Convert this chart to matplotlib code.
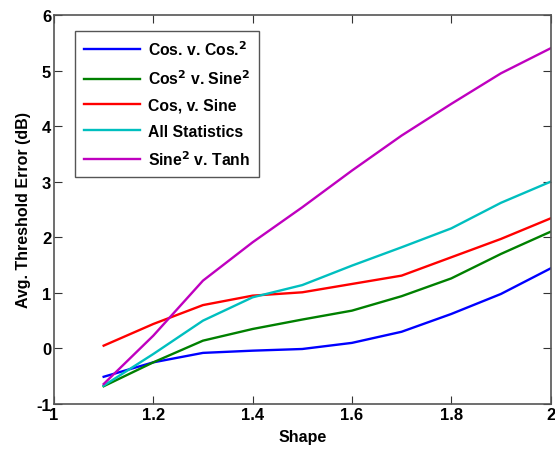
import matplotlib
matplotlib.use("Agg")
import matplotlib.pyplot as plt

plt.rcParams["font.family"] = ["Liberation Sans", "DejaVu Sans"]
plt.rcParams["font.weight"] = "bold"
plt.rcParams["mathtext.default"] = "bf"
plt.rcParams["axes.unicode_minus"] = False

shape = [1.1, 1.2, 1.3, 1.4, 1.5, 1.6, 1.7, 1.8, 1.9, 2.0]
cos_cos2 = [-0.51, -0.25, -0.08, -0.04, -0.01, 0.10, 0.30, 0.62, 0.98, 1.44]
cos2_sine2 = [-0.68, -0.25, 0.14, 0.35, 0.52, 0.68, 0.94, 1.26, 1.70, 2.10]
cos_sine = [0.05, 0.44, 0.78, 0.95, 1.01, 1.16, 1.31, 1.64, 1.97, 2.34]
all_stats = [-0.67, -0.10, 0.50, 0.92, 1.14, 1.49, 1.82, 2.16, 2.62, 3.00]
sine2_tanh = [-0.64, 0.23, 1.22, 1.91, 2.54, 3.20, 3.83, 4.40, 4.95, 5.40]

labels = [r"Cos. v. Cos.$^2$", r"Cos$^2$ v. Sine$^2$", "Cos, v. Sine",
          "All Statistics", r"Sine$^2$ v. Tanh"]
colors = ["#0000ff", "#008000", "#ff0000", "#00bfbf", "#bf00bf"]
series = [cos_cos2, cos2_sine2, cos_sine, all_stats, sine2_tanh]

fig = plt.figure(figsize=(5.55, 4.56), dpi=100)
ax = fig.add_axes([0.0973, 0.1118, 0.8947, 0.8532])

for ys, c, lab in zip(series, colors, labels):
    ax.plot(shape, ys, color=c, lw=1.7, label=lab)

ax.set_xlim(1, 2)
ax.set_ylim(-1, 6)
ax.set_xticks([1, 1.2, 1.4, 1.6, 1.8, 2])
ax.set_xticklabels(["1", "1.2", "1.4", "1.6", "1.8", "2"])
ax.set_yticks(range(-1, 7))
ax.tick_params(direction="in", top=True, right=True, length=6, pad=2,
               labelsize=12, colors="#333333", labelcolor="black")
for s in ax.spines.values():
    s.set_color("#555555")
    s.set_linewidth(1.2)

ax.set_xlabel("Shape", fontsize=11.5, fontweight="bold", labelpad=5)
ax.set_ylabel("Avg. Threshold Error (dB)", fontsize=11.5, fontweight="bold", labelpad=4)

leg = ax.legend(loc="upper left", bbox_to_anchor=(0.043, 0.960), fontsize=11.3,
                fancybox=False, framealpha=1, edgecolor="#555555",
                handlelength=3.6, handletextpad=0.5, borderpad=0.55,
                labelspacing=0.68, borderaxespad=0)
leg.get_frame().set_linewidth(1.0)

fig.savefig("out.png", dpi=100)
